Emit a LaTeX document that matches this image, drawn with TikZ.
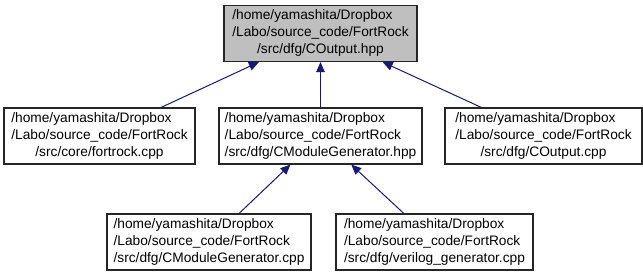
\documentclass[tikz,border=0pt]{standalone}
\usepackage{fontspec}
\setmainfont{Liberation Sans}
\usetikzlibrary{arrows.meta}
\definecolor{edgeblue}{HTML}{191970}
\definecolor{boxgrey}{HTML}{BFBFBF}
\definecolor{boxline}{HTML}{262626}
% three-line file label: first two lines flush left, last line centred
\newcommand{\filelabel}[3]{\begin{tabular}{@{}l@{}}#1\\#2\\\multicolumn{1}{@{}c@{}}{#3}\end{tabular}}
\tikzset{
  filebox/.style={draw=boxline, line width=0.9pt, fill=white, rectangle,
    inner sep=0pt, minimum height=42pt,
    font=\fontsize{10.3}{12.8}\selectfont},
  focusbox/.style={filebox, fill=boxgrey},
  incl/.style={draw=edgeblue, line width=0.75pt,
    -{Triangle[length=7.5pt,width=6.5pt]}}
}
\begin{document}
\begin{tikzpicture}[x=0.75pt,y=-0.75pt]
\useasboundingbox (0,0) rectangle (643,275);
\node[focusbox, minimum width=144.75pt] (hpp) at (320.5,33.5)
  {\filelabel{/home/yamashita/Dropbox}{/Labo/source\_code/FortRock}{/src/dfg/COutput.hpp}};
\node[filebox, minimum width=143.25pt] (fortrock) at (99.5,136)
  {\filelabel{/home/yamashita/Dropbox}{/Labo/source\_code/FortRock}{/src/core/fortrock.cpp}};
\node[filebox, minimum width=152.25pt] (modgenh) at (320.5,136)
  {\filelabel{/home/yamashita/Dropbox}{/Labo/source\_code/FortRock}{/src/dfg/CModuleGenerator.hpp}};
\node[filebox, minimum width=147.75pt] (outcpp) at (543.5,136)
  {\filelabel{/home/yamashita/Dropbox}{/Labo/source\_code/FortRock}{/src/dfg/COutput.cpp}};
\node[filebox, minimum width=153pt] (modgencpp) at (209,242)
  {\filelabel{/home/yamashita/Dropbox}{/Labo/source\_code/FortRock}{/src/dfg/CModuleGenerator.cpp}};
\node[filebox, minimum width=147.75pt] (verilog) at (434.5,242)
  {\filelabel{/home/yamashita/Dropbox}{/Labo/source\_code/FortRock}{/src/dfg/verilog\_generator.cpp}};
\draw[incl] (fortrock) -- (hpp);
\draw[incl] (modgenh) -- (hpp);
\draw[incl] (outcpp) -- (hpp);
\draw[incl] (modgencpp) -- (modgenh);
\draw[incl] (verilog) -- (modgenh);
\end{tikzpicture}
\end{document}
